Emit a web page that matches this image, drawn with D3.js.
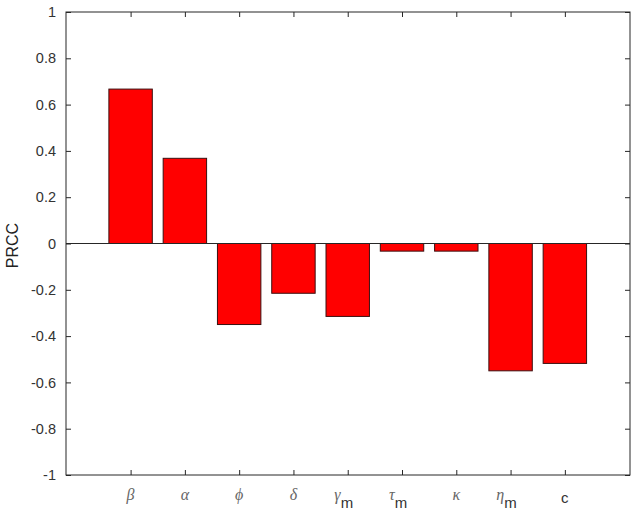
<!DOCTYPE html>
<html lang="en">
<head>
<script src="https://d3js.org/d3.v7.min.js"></script>
<style>
  body { margin: 0; background: #fff; }
  svg { display: block; font-family: Arial, "Liberation Sans", sans-serif; }
</style>
</head>
<body>
<svg id="chart" width="640" height="513"></svg>
<script>
// parameters and their PRCC values
const symbols = ["β", "α", "ϕ", "δ", "γ", "τ", "κ", "η", "c"];
const subs    = ["",  "",  "",  "",  "m", "m", "",  "m", ""];
const prcc    = [0.667, 0.368, -0.35, -0.215, -0.315, -0.033, -0.033, -0.55, -0.518];
const yTicks  = [1, 0.8, 0.6, 0.4, 0.2, 0, -0.2, -0.4, -0.6, -0.8, -1];

const mLeft = 66, mRight = 630, mTop = 12, mBottom = 475;
const svg = d3.select("#chart");

const x = d3.scaleLinear().domain([-0.19, 10.2]).range([mLeft, mRight]);
const y = d3.scaleLinear().domain([-1, 1]).range([mBottom, mTop]);
const idx = d3.range(1, prcc.length + 1);
const barW = (x(1) - x(0)) * 0.8;

// bars
svg.append("g").selectAll("rect")
  .data(prcc)
  .enter()
  .append("rect")
    .attr("x", (d, i) => x(i + 1) - barW / 2)
    .attr("y", d => y(Math.max(0, d)))
    .attr("width", barW)
    .attr("height", d => Math.abs(y(d) - y(0)))
    .style("fill", "#ff0000")
    .style("stroke", "#3a1010")
    .style("stroke-width", 1);

// zero baseline
svg.append("line")
  .attr("x1", mLeft).attr("x2", mRight)
  .attr("y1", y(0)).attr("y2", y(0))
  .style("stroke", "#262626").style("stroke-width", 1);

// axes (ticks inward on all four sides)
const axisStyle = g => {
  g.select(".domain").remove();
  g.selectAll(".tick line").style("stroke", "#262626");
};

svg.append("g").attr("transform", `translate(${mLeft},0)`)
  .call(d3.axisLeft(y).tickValues(yTicks).tickSize(-5).tickPadding(10).tickFormat(d => String(+d.toFixed(1))))
  .call(axisStyle)
  .call(g => g.selectAll("text").style("font-size", "14.5px").style("fill", "#333"));

svg.append("g").attr("transform", `translate(${mRight},0)`)
  .call(d3.axisRight(y).tickValues(yTicks).tickSize(-5).tickFormat(""))
  .call(axisStyle);

svg.append("g").attr("transform", `translate(0,${mBottom})`)
  .call(d3.axisBottom(x).tickValues(idx).tickSize(-5).tickFormat(""))
  .call(axisStyle);

svg.append("g").attr("transform", `translate(0,${mTop})`)
  .call(d3.axisTop(x).tickValues(idx).tickSize(-5).tickFormat(""))
  .call(axisStyle);

// frame
svg.append("rect")
  .attr("x", mLeft).attr("y", mTop)
  .attr("width", mRight - mLeft).attr("height", mBottom - mTop)
  .style("fill", "none").style("stroke", "#262626").style("stroke-width", 1);

// x tick labels
const lab = svg.append("g").selectAll("text")
  .data(symbols)
  .enter()
  .append("text")
    .attr("x", (d, i) => x(i + 1) - (subs[i] ? 4 : 0))
    .attr("y", d => d === "c" ? 503 : 500)
    .attr("text-anchor", "middle");

lab.append("tspan")
  .text(d => d)
  .style("font-family", d => d === "c" ? "Arial, 'Liberation Sans', sans-serif" : "'Liberation Serif', 'DejaVu Serif', serif")
  .style("font-style", d => d === "c" ? "normal" : "italic")
  .style("font-size", d => d === "c" ? "15px" : "16px")
  .style("fill", d => d === "c" ? "#333" : "#666");

lab.append("tspan")
  .text((d, i) => subs[i])
  .attr("dy", 8)
  .style("font-size", "15px")
  .style("fill", "#333");

// y label
svg.append("text")
  .attr("transform", `translate(18,${y(0) + 2}) rotate(-90)`)
  .attr("text-anchor", "middle")
  .style("font-size", "16px")
  .style("fill", "#222")
  .text("PRCC");
</script>
</body>
</html>
